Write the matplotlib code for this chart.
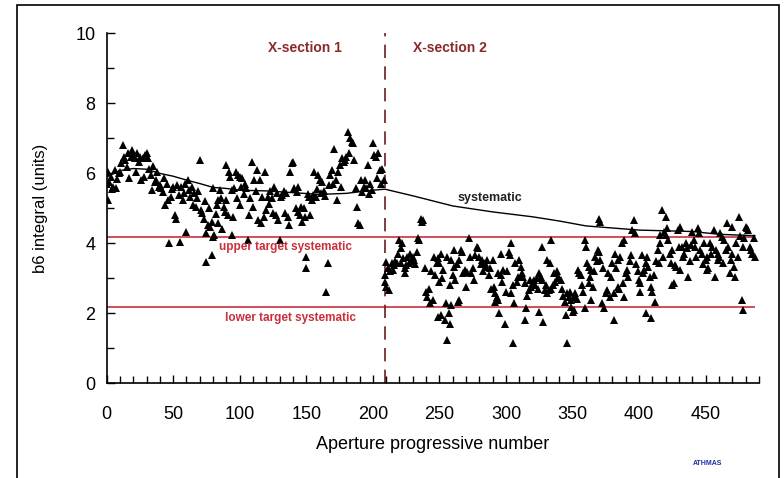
import matplotlib
matplotlib.use("Agg")
import matplotlib.pyplot as plt
from matplotlib.patches import Rectangle
from matplotlib.ticker import MultipleLocator

plt.rcParams["font.family"] = ["Liberation Sans", "DejaVu Sans"]

# b6 integral per aperture
sec1_x = [
    0, 1, 1, 2, 3, 4, 5, 6, 7, 8, 9,
    10, 11, 12, 13, 14, 15, 16, 17, 18, 19,
    20, 21, 22, 23, 24, 25, 26, 27, 28, 29,
    30, 31, 32, 33, 34, 35, 36, 37, 38, 39,
    40, 41, 42, 43, 44, 45, 46, 47, 48, 49,
    50, 51, 52, 53, 54, 55, 56, 57, 58, 59, 60,
    61, 62, 63, 64, 65, 66, 67, 68, 69, 70,
    71, 72, 73, 74, 75, 75, 76, 77, 78, 79, 79, 80, 80, 81, 82, 83, 84, 84, 85, 86, 87, 88, 89,
    90, 90, 91, 92, 93, 94, 94, 95, 96, 97, 98, 99,
    100, 100, 101, 102, 103, 104, 105, 106, 107, 108, 109,
    110, 111, 112, 113, 114, 115, 116, 117, 118, 119,
    120, 121, 122, 123, 124, 125, 126, 127, 128, 129,
    130, 131, 132, 133, 134, 135, 136, 137, 138, 139,
    140, 141, 142, 143, 144, 144, 145, 146, 147, 148, 149, 150, 150,
    151, 152, 153, 154, 155, 156, 157, 158, 159,
    160, 161, 162, 163, 164, 165, 166, 167, 168, 169,
    170, 171, 172, 173, 174, 175, 176, 177, 178, 179,
    180, 181, 182, 183, 184, 185, 186, 187, 188, 189,
    190, 191, 192, 193, 194, 195, 196, 197, 198, 199,
    200, 201, 202, 203, 204, 205, 206, 207, 208,
]
sec1_y = [
    5.70, 5.24, 6.05, 5.76, 5.90, 5.55, 5.62, 6.10, 5.57, 5.85, 6.00,
    6.05, 6.29, 6.81, 6.48, 6.38, 6.19, 6.57, 5.86, 6.48, 6.67,
    6.52, 6.43, 6.05, 6.57, 6.33, 6.48, 5.81, 6.43, 5.90, 6.52,
    6.57, 6.43, 6.14, 5.95, 5.52, 6.20, 5.76, 5.81, 6.05, 5.60,
    5.67, 5.57, 5.48, 5.86, 5.10, 5.70, 5.24, 4.00, 5.33, 5.55,
    5.62, 4.81, 4.71, 5.67, 5.38, 4.05, 5.62, 5.24, 5.45, 5.70, 4.33,
    5.81, 5.52, 5.33, 5.60, 5.10, 5.45, 5.05, 5.30, 5.50, 6.38,
    4.95, 4.86, 4.71, 5.20, 4.29, 3.48, 4.52, 5.00, 4.48, 3.67, 4.60, 5.57, 4.19, 4.24, 4.85, 5.10, 5.24, 4.57, 5.52, 5.30, 4.40, 5.05, 4.90,
    6.24, 5.24, 4.81, 6.05, 5.90, 5.52, 4.24, 4.76, 5.57, 6.05, 5.30, 5.95,
    5.90, 5.10, 5.62, 5.86, 5.40, 5.71, 5.57, 4.10, 4.81, 5.30, 6.33,
    5.05, 5.81, 5.50, 6.10, 4.67, 5.81, 4.57, 5.33, 4.76, 6.05,
    4.95, 5.33, 5.14, 5.50, 5.29, 4.86, 5.60, 4.81, 5.45, 4.67,
    4.10, 5.33, 5.38, 5.50, 4.86, 5.45, 4.76, 4.52, 6.05, 6.29,
    6.33, 5.57, 5.00, 5.48, 5.62, 4.90, 4.81, 5.05, 4.62, 5.00, 4.76, 3.62, 3.29,
    5.40, 5.33, 4.81, 5.24, 5.38, 6.05, 5.33, 5.55, 5.95,
    5.81, 5.43, 5.76, 5.50, 5.35, 2.62, 3.43, 5.67, 5.95, 6.10,
    5.71, 6.71, 5.81, 5.24, 6.05, 6.24, 5.62, 6.43, 6.33, 6.38,
    6.48, 7.19, 6.57, 7.00, 6.90, 6.86, 6.38, 5.57, 5.05, 4.57,
    4.52, 5.81, 5.48, 5.60, 5.81, 5.57, 6.24, 5.40, 5.70, 5.52,
    6.86, 6.52, 6.48, 5.86, 6.57, 6.10, 5.71, 6.14, 5.81,
]

sec2_x = [
    209, 209, 210, 210, 211, 212, 213, 214, 215, 216, 217, 218, 219,
    220, 221, 221, 222, 223, 224, 224, 225, 226, 227, 228, 229,
    230, 231, 232, 233, 234, 235, 236, 237, 238, 239,
    240, 241, 242, 243, 244, 245, 246, 247, 248, 249, 249,
    250, 250, 251, 251, 252, 253, 254, 255, 256, 256, 257, 258, 258, 259, 259,
    260, 261, 261, 262, 263, 264, 265, 265, 266, 267, 268, 269,
    270, 271, 272, 273, 274, 275, 276, 277, 278, 279,
    280, 281, 282, 283, 284, 285, 286, 287, 288, 289,
    290, 291, 292, 292, 293, 294, 294, 295, 296, 296, 297, 298, 299,
    300, 301, 302, 303, 304, 304, 305, 305, 306, 307, 308, 309,
    310, 311, 311, 312, 313, 314, 314, 315, 316, 317, 318, 319,
    320, 321, 322, 323, 324, 325, 325, 326, 327, 327, 328, 329,
    330, 331, 331, 332, 333, 334, 334, 335, 336, 337, 338, 339,
    340, 341, 342, 343, 344, 345, 346, 346, 347, 348, 349, 349,
    350, 351, 351, 352, 353, 354, 355, 356, 357, 358, 359, 359,
    360, 361, 362, 362, 363, 364, 364, 365, 366, 367, 368, 369,
    370, 370, 371, 371, 372, 373, 374, 375, 376, 377, 378, 379,
    380, 381, 381, 382, 383, 384, 384, 385, 386, 387, 388, 389, 389,
    390, 391, 392, 393, 394, 395, 396, 397, 398, 399,
    400, 401, 401, 402, 403, 404, 405, 405, 406, 407, 408, 409, 409,
    410, 411, 412, 413, 414, 415, 416, 416, 417, 418, 419,
    420, 420, 421, 422, 423, 424, 425, 425, 426, 427, 428, 429,
    430, 431, 431, 432, 433, 434, 435, 436, 437, 438, 439,
    440, 441, 442, 443, 444, 445, 446, 447, 448, 449,
    450, 451, 451, 452, 453, 454, 455, 456, 457, 458, 459, 459,
    460, 461, 462, 463, 464, 465, 466, 467, 468, 469,
    470, 470, 471, 472, 473, 474, 475, 476, 477, 478, 478, 479,
    480, 481, 482, 483, 484, 485, 486, 487,
]
sec2_y = [
    3.10, 2.90, 3.48, 2.76, 3.30, 2.67, 3.20, 3.43, 3.24, 3.38, 3.50, 3.45, 3.71,
    4.10, 3.86, 3.43, 4.00, 3.57, 3.29, 3.14, 3.38, 3.60, 3.45, 3.70, 3.50,
    3.62, 3.52, 3.40, 3.75, 4.14, 4.10, 4.71, 4.62, 4.66, 3.30,
    2.62, 2.48, 2.71, 2.29, 3.20, 2.38, 3.62, 3.10, 3.45, 3.57, 1.90,
    3.43, 2.90, 1.95, 3.71, 3.00, 3.25, 1.81, 2.29, 3.62, 1.24, 2.00, 1.71, 2.80, 3.52, 2.24,
    3.10, 3.81, 3.33, 2.95, 3.40, 2.33, 3.52, 2.38, 3.81, 3.76, 3.14, 3.24,
    2.76, 3.19, 4.14, 3.60, 3.14, 3.30, 2.95, 3.67, 3.90, 3.86,
    3.62, 3.40, 3.52, 3.20, 3.43, 3.33, 3.52, 3.10, 3.30, 2.71,
    3.52, 2.76, 2.33, 2.57, 2.48, 3.14, 2.38, 2.00, 3.10, 3.71, 2.90, 3.25, 1.71,
    2.60, 3.20, 3.76, 3.67, 4.00, 2.57, 2.81, 1.14, 2.29, 3.43, 2.90, 3.05,
    3.52, 3.33, 3.05, 3.14, 3.05, 2.86, 1.81, 2.14, 2.50, 2.67, 2.95, 2.76,
    2.90, 2.95, 2.81, 3.00, 2.70, 3.14, 2.05, 3.05, 2.95, 3.90, 1.76, 2.67,
    2.80, 3.52, 2.57, 2.67, 3.43, 4.10, 2.71, 2.81, 3.14, 2.90, 3.20, 3.05,
    3.00, 2.95, 2.70, 2.50, 2.33, 1.95, 2.57, 1.14, 2.48, 2.60, 2.38, 2.19,
    2.05, 2.10, 2.48, 2.57, 2.40, 3.24, 3.14, 3.10, 2.80, 2.60, 4.10, 2.14,
    3.90, 3.43, 3.33, 2.86, 3.05, 3.24, 2.38, 2.76, 3.20, 3.62, 3.50, 3.81,
    3.76, 4.71, 4.62, 3.52, 2.29, 3.30, 2.14, 2.57, 2.67, 3.14, 2.48, 3.05,
    3.43, 2.57, 1.81, 3.71, 3.30, 3.52, 2.76, 2.71, 3.62, 4.00, 2.86, 4.10, 2.48,
    3.14, 3.24, 3.05, 3.50, 3.67, 4.38, 4.67, 4.29, 3.40, 3.20,
    2.95, 2.86, 2.62, 3.67, 3.14, 3.24, 3.43, 2.00, 3.62, 3.33, 3.05, 2.76, 1.86,
    2.62, 3.10, 2.33, 3.50, 3.80, 3.43, 4.24, 4.00, 4.95, 3.60, 4.33,
    4.24, 4.76, 4.43, 4.10, 3.70, 3.43, 3.81, 2.81, 2.86, 3.38, 3.33, 4.38,
    3.90, 4.48, 3.24, 3.90, 3.60, 3.71, 4.00, 3.86, 3.05, 3.50, 3.95,
    4.33, 4.10, 3.90, 3.60, 4.43, 4.29, 3.81, 3.71, 3.40, 4.00,
    3.52, 3.62, 3.24, 3.29, 4.00, 3.70, 3.90, 4.38, 3.05, 3.81, 3.71, 3.52,
    3.62, 4.29, 4.19, 3.43, 4.10, 3.80, 4.57, 3.90, 3.14, 3.52,
    3.71, 4.48, 3.33, 3.05, 4.00, 3.60, 4.76, 4.20, 2.38, 2.10, 3.90, 4.14,
    4.48, 4.43, 4.38, 3.90, 3.81, 3.71, 4.14, 3.62,
]

# systematic (smoothed) curve
syst_x = [0, 10, 20, 30, 40, 50, 60, 70, 80, 90, 100, 120, 140, 160, 180, 200, 209,
          230, 260, 290, 320, 340, 360, 380, 400, 440, 460, 487]
syst_y = [5.90, 6.08, 6.14, 6.12, 6.00, 5.92, 5.81, 5.71, 5.60, 5.57, 5.52, 5.50, 5.45,
          5.40, 5.43, 5.52, 5.55, 5.36, 5.07, 4.90, 4.76, 4.64, 4.50, 4.44, 4.38, 4.34,
          4.26, 4.22]

upper_target = 4.17
lower_target = 2.17
section_split = 209
last_aperture = 487

fig = plt.figure(figsize=(7.84, 4.78), dpi=100)
ax = fig.add_axes([0.136, 0.198, 0.832, 0.732])

ax.plot(sec1_x, sec1_y, "^", color="black", markersize=6, markeredgewidth=0, zorder=3)
ax.plot(sec2_x, sec2_y, "^", color="black", markersize=6, markeredgewidth=0, zorder=3)
ax.plot(syst_x, syst_y, "-", color="black", linewidth=1.0, zorder=2)

red = "#c8303a"
ax.hlines([upper_target, lower_target], 0, last_aperture, color=red, linewidth=1.2, zorder=1)
ax.axvline(section_split, color="#6a1c1c", linewidth=1.2, dashes=(8, 5), zorder=1)

ax.text(149, 9.58, "X-section 1", color="#8a2a2a", fontsize=10, fontweight="bold",
        ha="center", va="center")
ax.text(258, 9.58, "X-section 2", color="#8a2a2a", fontsize=10, fontweight="bold",
        ha="center", va="center")
ax.text(288, 5.3, "systematic", color="#222222", fontsize=9, fontweight="bold",
        ha="center", va="center")
ax.text(134, 3.9, "upper target systematic", color=red, fontsize=8.5, fontweight="bold",
        ha="center", va="center")
ax.text(138, 1.87, "lower target systematic", color=red, fontsize=8.5, fontweight="bold",
        ha="center", va="center")

ax.set_xlim(0, 490)
ax.set_ylim(0, 10)
ax.xaxis.set_major_locator(MultipleLocator(50))
ax.xaxis.set_minor_locator(MultipleLocator(10))
ax.yaxis.set_major_locator(MultipleLocator(2))
ax.yaxis.set_minor_locator(MultipleLocator(1))
ax.tick_params(axis="both", which="both", direction="in", width=1, color="black")
ax.tick_params(axis="both", which="major", length=6, labelsize=13)
ax.tick_params(axis="both", which="minor", length=5)
ax.tick_params(axis="x", which="major", pad=16)
ax.tick_params(axis="y", which="major", pad=8)

for side in ("top", "right"):
    ax.spines[side].set_visible(False)
for side in ("left", "bottom"):
    ax.spines[side].set_linewidth(1.2)

ax.set_xlabel("Aperture progressive number", fontsize=13, labelpad=10)
ax.set_ylabel("b6 integral (units)", fontsize=12, labelpad=20)

fig.text(0.903, 0.03, "ATHMAS", color="#2030a0", fontsize=5, fontweight="bold",
         ha="center", va="center")

fig.patches.append(Rectangle((0.022, -0.02), 0.972, 1.01, transform=fig.transFigure,
                             fill=False, edgecolor="black", linewidth=1.2))

fig.savefig("out.png", dpi=100)
